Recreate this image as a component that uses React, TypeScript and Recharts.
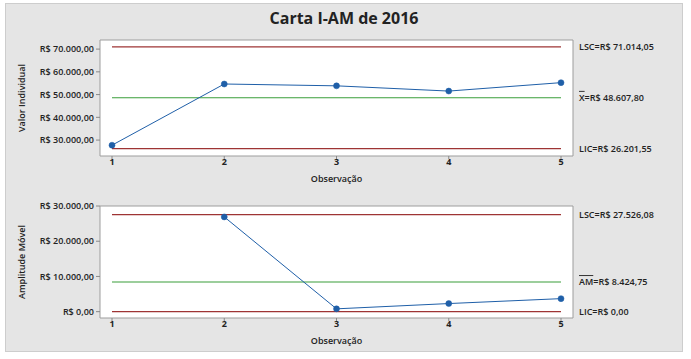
import { LineChart, Line, XAxis, YAxis, CartesianGrid, ReferenceLine } from "recharts";

const observations = [1, 2, 3, 4, 5];
const individualValues = [27750, 54650, 53850, 51550, 55250];
const movingRanges = [null, 26900, 800, 2300, 3700];

const individualTicks = [30000, 40000, 50000, 60000, 70000];
const rangeTicks = [0, 10000, 20000, 30000];

const individualLimits = [71014.05, 48607.8, 26201.55];
const rangeLimits = [27526.08, 8424.75, 0];

const FONT = "'Open Sans', 'DejaVu Sans', sans-serif";
const RED = "#9e3434";
const GREEN = "#3a9e3a";
const BLUE = "#1f5fa8";

function brl(v: number) {
  const [i, d] = Math.abs(v).toFixed(2).split(".");
  const int = i.replace(/\B(?=(\d{3})+(?!\d))/g, ".");
  return `R$ ${v < 0 ? "-" : ""}${int},${d}`;
}

function LimitText({ viewBox, name, amount, bar }: any) {
  if (!viewBox) return null;
  const x = viewBox.x + viewBox.width + 18;
  return (
    <text x={x} y={viewBox.y} dy="0.35em" fontSize={9} fontWeight={600} fill="#222" fontFamily={FONT}>
      <tspan style={{ textDecoration: bar ? "overline" : "none" }}>{name}</tspan>
      <tspan>={brl(amount)}</tspan>
    </text>
  );
}

function ControlChart(props: any) {
  const { data, ticks, domain, limits, centerName, yTitle, top, height, marginTop, marginBottom } = props;
  const [lsc, cl, lic] = limits;
  const seg = (y: number) => [{ x: 1, y }, { x: 5, y }];
  const txt = { fontSize: 9, fill: "#222", fontWeight: 600, fontFamily: FONT };
  return (
    <div style={{ position: "absolute", left: 0, top }}>
      <LineChart width={691} height={height} data={data}
        margin={{ top: marginTop, right: 118, left: 10, bottom: marginBottom }}>
        <CartesianGrid fill="#fff" stroke="#9d9d9d"
          horizontalCoordinatesGenerator={({ offset }: any) => [offset.top, offset.top + offset.height]}
          verticalCoordinatesGenerator={({ offset }: any) => [offset.left, offset.left + offset.width]} />
        <XAxis dataKey="obs" type="number" domain={[1, 5]} ticks={observations}
          padding={{ left: 12, right: 12 }} axisLine={false} tickSize={3} tickMargin={0}
          tickLine={{ stroke: "#888" }} height={30}
          tick={{ ...txt, fontWeight: 700 }}
          label={{ value: "Observação", position: "insideBottom", offset: 4, ...txt }} />
        <YAxis type="number" domain={domain} ticks={ticks} width={90} axisLine={false}
          allowDataOverflow tickSize={4} tickMargin={2} tickLine={{ stroke: "#888" }}
          tickFormatter={brl}
          tick={txt}
          label={{ value: yTitle, angle: -90, position: "insideLeft", offset: 12, ...txt, style: { textAnchor: "middle" } }} />
        <ReferenceLine segment={seg(lsc)} stroke={RED} strokeWidth={1.2} ifOverflow="visible"
          label={(p: any) => <LimitText viewBox={p.viewBox} name="LSC" amount={lsc} />} />
        <ReferenceLine segment={seg(cl)} stroke={GREEN} strokeWidth={1.2} ifOverflow="visible"
          label={(p: any) => <LimitText viewBox={p.viewBox} name={centerName} amount={cl} bar />} />
        <ReferenceLine segment={seg(lic)} stroke={RED} strokeWidth={1.2} ifOverflow="visible"
          label={(p: any) => <LimitText viewBox={p.viewBox} name="LIC" amount={lic} />} />
        <Line dataKey="value" stroke={BLUE} strokeWidth={1} isAnimationActive={false}
          dot={{ r: 3, fill: BLUE, stroke: BLUE, strokeWidth: 0.5 }} />
      </LineChart>
    </div>
  );
}

export default function App() {
  const individualData = observations.map((obs, i) => ({ obs, value: individualValues[i] }));
  const rangeData = observations.map((obs, i) => ({ obs, value: movingRanges[i] }));
  return (
    <div style={{ position: "absolute", left: 0, top: 0, width: 691, height: 359, background: "#fff" }}>
      <div style={{ position: "absolute", left: 5, top: 3, width: 676, height: 347, background: "#e5e5e5", border: "1px solid #cdcdcd" }} />
      <div style={{ position: "absolute", left: 0, top: 7, width: 688, textAlign: "center", fontFamily: FONT, fontWeight: 700, fontSize: 16, color: "#222" }}>
        Carta I-AM de 2016
      </div>
      <ControlChart data={individualData} ticks={individualTicks} domain={[23000, 74000]}
        limits={individualLimits} centerName="X" yTitle="Valor Individual"
        top={0} height={190} marginTop={40} marginBottom={4} />
      <ControlChart data={rangeData} ticks={rangeTicks} domain={[-1800, 30000]}
        limits={rangeLimits} centerName="AM" yTitle="Amplitude Móvel"
        top={170} height={189} marginTop={36} marginBottom={11} />
    </div>
  );
}
